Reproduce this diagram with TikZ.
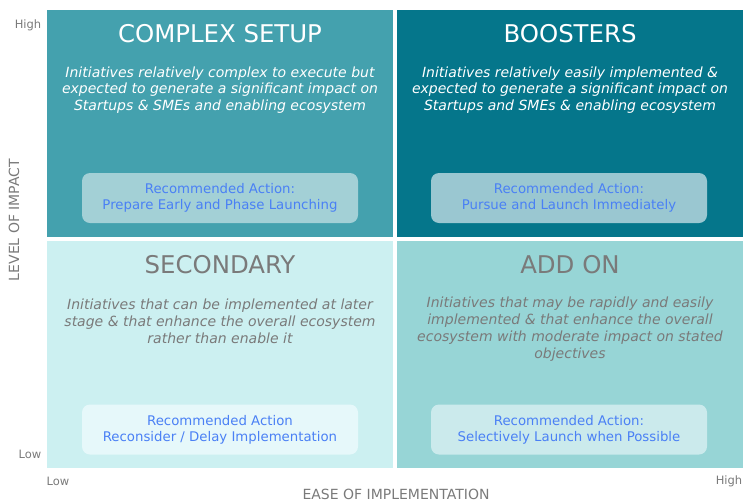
\documentclass[tikz,border=0pt]{standalone}
\usepackage{fontspec}
\setmainfont{DejaVu Sans}
\usetikzlibrary{positioning}
\usepackage{xcolor}
\definecolor{complexfill}{HTML}{44A1AE}
\definecolor{boosterfill}{HTML}{05768B}
\definecolor{secondfill}{HTML}{CCF0F1}
\definecolor{addonfill}{HTML}{97D5D6}
\definecolor{complexbox}{HTML}{A3D0D6}
\definecolor{boosterbox}{HTML}{9AC7D1}
\definecolor{secondbox}{HTML}{E6F8FA}
\definecolor{addonbox}{HTML}{CBEAEC}
\definecolor{actionblue}{HTML}{4A80F5}
\definecolor{axisgray}{HTML}{7A7A7A}

\begin{document}
\begin{tikzpicture}[x=1pt,y=-1pt]
    \tikzset{
        quad/.style={minimum width=346pt, minimum height=227pt, inner sep=0pt, draw=none},
        quadtitle/.style={font=\fontsize{24.4}{28}\selectfont, inner sep=0pt},
        quaddesc/.style={font=\fontsize{14}{16.8}\selectfont\itshape, align=center, inner sep=0pt},
        action/.style={minimum width=276pt, minimum height=50pt, rounded corners=8pt,
            text=actionblue, align=center, font=\fontsize{13.3}{16.2}\selectfont},
        axis/.style={text=axisgray, inner sep=0pt}
    }
    \useasboundingbox (0,0) rectangle (743,501);
    % Quadrants
    \node[quad, fill=complexfill] (complex) at (220,123.5) {};
    \node[quad, fill=boosterfill] (booster) at (570,123.5) {};
    \node[quad, fill=secondfill]  (second)  at (220,354.5) {};
    \node[quad, fill=addonfill]   (addon)   at (570,354.5) {};
    % Titles
    \node[quadtitle, text=white]     (complextitle) at (220,34)  {COMPLEX SETUP};
    \node[quadtitle, text=white]     (boostertitle) at (570,34)  {BOOSTERS};
    \node[quadtitle, text=axisgray]  (secondtitle)  at (220,265) {SECONDARY};
    \node[quadtitle, text=axisgray]  (addontitle)   at (570,265) {ADD ON};
    % Descriptions
    \node[quaddesc, text=white] (complexdesc) at (220,90)
        {Initiatives relatively complex to execute but\\expected to generate a significant impact on\\Startups \& SMEs and enabling ecosystem};
    \node[quaddesc, text=white] (boosterdesc) at (570,90)
        {Initiatives relatively easily implemented \&\\expected to generate a significant impact on\\Startups and SMEs \& enabling ecosystem};
    \node[quaddesc, text=axisgray] (seconddesc) at (220,321)
        {Initiatives that can be implemented at later\\stage \& that enhance the overall ecosystem\\rather than enable it};
    \node[quaddesc, text=axisgray] (addondesc) at (570,329)
        {Initiatives that may be rapidly and easily\\implemented \& that enhance the overall\\ecosystem with moderate impact on stated\\objectives};
    % Recommended actions
    \node[action, fill=complexbox] (complexact) at (220,198)
        {Recommended Action:\\Prepare Early and Phase Launching};
    \node[action, fill=boosterbox] (boosteract) at (569,198)
        {Recommended Action:\\Pursue and Launch Immediately};
    \node[action, fill=secondbox] (secondact) at (220,429.5)
        {Recommended Action\\Reconsider / Delay Implementation};
    \node[action, fill=addonbox] (addonact) at (569,429.5)
        {Recommended Action:\\Selectively Launch when Possible};
    % Axes
    \node[axis, font=\fontsize{11.5}{13}\selectfont] (yhigh) at (28,25)  {High};
    \node[axis, font=\fontsize{11.5}{13}\selectfont] (ylow)  at (30,454) {Low};
    \node[axis, font=\fontsize{11.5}{13}\selectfont] (xlow)  at (58,481) {Low};
    \node[axis, font=\fontsize{11.5}{13}\selectfont] (xhigh) at (729,481) {High};
    \node[axis, font=\fontsize{14}{16}\selectfont, rotate=90] (ylabel) at (14,220) {LEVEL OF IMPACT};
    \node[axis, font=\fontsize{14}{16}\selectfont] (xlabel) at (396,494) {EASE OF IMPLEMENTATION};
\end{tikzpicture}
\end{document}
